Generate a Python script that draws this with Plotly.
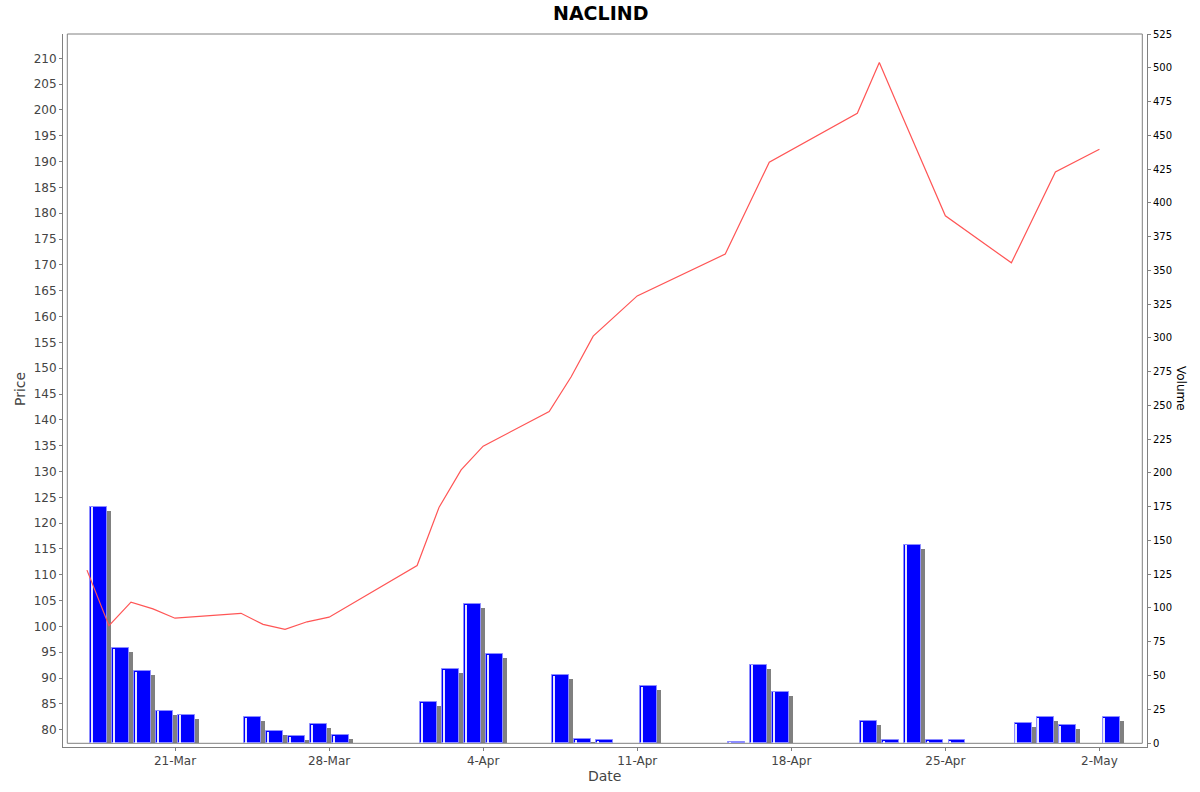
import pandas as pd
import plotly.graph_objects as go

# ---------------- data ----------------
dates = ["2025-03-17", "2025-03-18", "2025-03-19", "2025-03-20", "2025-03-21",
         "2025-03-24", "2025-03-25", "2025-03-26", "2025-03-27", "2025-03-28",
         "2025-04-01", "2025-04-02", "2025-04-03", "2025-04-04",
         "2025-04-07", "2025-04-08", "2025-04-09", "2025-04-11",
         "2025-04-15", "2025-04-16", "2025-04-17",
         "2025-04-21", "2025-04-22", "2025-04-23", "2025-04-24", "2025-04-25",
         "2025-04-28", "2025-04-29", "2025-04-30", "2025-05-02"]
price = [110.9, 100.15, 104.7, 103.4, 101.6,
         102.55, 100.4, 99.45, 100.9, 101.8,
         111.8, 123.1, 130.3, 134.9,
         141.6, 148.35, 156.2, 164.0,
         172.1, 181.0, 189.9,
         199.35, 209.2, 199.2, 189.25, 179.5,
         170.4, 179.2, 188.0, 192.4]
volume = [175, 70, 53, 24, 21,
          19, 9, 5, 14, 6,
          30, 55, 103, 66,
          50, 3, 2, 42,
          1, 58, 38,
          16, 2, 147, 2, 2,
          15, 19, 13,
          19]
title = "NACLIND"
x_title = "Date"
price_title = "Price"
vol_title = "Volume"

# ---------------- geometry / style ----------------
W, H = 1200, 792
# axis-line box in screen pixels
PL, PR, PT, PB = 63, 1147, 34, 747
DAY_PX = 22.01
DAY_MS = 86400000
fam = "DejaVu Sans"

d = pd.to_datetime(dates)
day = pd.Timedelta(days=1)
bar_x = d + day * 0.529
shadow_x = d + day * (0.529 + 4 / DAY_PX)
stripe_x = d + day * (4.7 / DAY_PX)
bar_w = 0.772 * DAY_MS
stripe_w = (1.0 / DAY_PX) * DAY_MS

VOL_TOP = 525.05
vol_per_px = VOL_TOP / (PB - 4 - PT)
shadow_v = [max(v - 4 * vol_per_px, 0) for v in volume]
stripe_v = [max(v - 0.8 * vol_per_px, 0) for v in volume]

base = pd.Timestamp("2025-03-21")          # screen x = 175 px
x_range = [base + day * ((PL - 175) / DAY_PX), base + day * ((PR - 175) / DAY_PX)]

fig = go.Figure()
fig.add_trace(go.Bar(x=shadow_x, y=shadow_v, width=bar_w, marker=dict(color="#808080", line=dict(width=0)),
                     yaxis="y", showlegend=False, hoverinfo="skip"))
fig.add_trace(go.Bar(x=bar_x, y=volume, width=bar_w,
                     marker=dict(color="#0000ff", line=dict(color="#8c8cff", width=1)),
                     yaxis="y", showlegend=False, name="Volume"))
fig.add_trace(go.Bar(x=stripe_x, y=stripe_v, width=stripe_w, marker=dict(color="#e6e6ff", line=dict(width=0)),
                     yaxis="y", showlegend=False, hoverinfo="skip"))
fig.add_trace(go.Scatter(x=d, y=price, mode="lines", line=dict(color="rgb(255,85,85)", width=1.2),
                         yaxis="y2", showlegend=False, name="Price"))

axis_line = "#808080"
fig.update_layout(
    width=W, height=H,
    margin=dict(l=PL, r=W - PR, t=PT, b=H - PB, pad=0, autoexpand=False),
    paper_bgcolor="white", plot_bgcolor="white",
    barmode="overlay", bargap=0,
    font=dict(family=fam, size=12, color="#444444"),
    xaxis=dict(type="date", range=x_range, tick0="2025-03-21", dtick=7 * DAY_MS,
               tickformat="%-d-%b", showgrid=False, zeroline=False, automargin=False,
               showline=True, linecolor=axis_line, linewidth=1,
               ticks="outside", ticklen=3, tickcolor=axis_line,
               tickfont=dict(family=fam, size=12, color="#444444")),
    yaxis=dict(side="right", range=[-4 * vol_per_px, VOL_TOP],
               tick0=0, dtick=25, showgrid=False, zeroline=False, automargin=False,
               showline=True, linecolor=axis_line, linewidth=1,
               ticks="outside", ticklen=3, tickcolor=axis_line,
               tickfont=dict(family=fam, size=10, color="#000000")),
    yaxis2=dict(side="left", overlaying="y",
                range=[210 - (PB - 58.3) / 5.165, 210 + (58.3 - PT) / 5.165],
                tick0=80, dtick=5, showgrid=False, zeroline=False, automargin=False,
                showline=True, linecolor=axis_line, linewidth=1,
                ticks="outside", ticklen=3, tickcolor=axis_line,
                tickfont=dict(family=fam, size=12, color="#444444")),
)

pw, ph = PR - PL, PB - PT
def px(x):   # screen px -> paper fraction
    return (x - PL) / pw
def py(y):
    return (PB - y) / ph

# inner plot border (offset from axes)
fig.add_shape(type="rect", xref="paper", yref="paper",
              x0=px(67.3), x1=px(1142.3), y0=py(743.3), y1=py(PT),
              line=dict(color=axis_line, width=1), fillcolor="rgba(0,0,0,0)", layer="below")

fig.add_annotation(text="<b>" + title + "</b>", xref="paper", yref="paper", x=px(600), y=py(0.5),
                   showarrow=False, font=dict(family=fam, size=19, color="#000000"),
                   xanchor="center", yanchor="top", borderpad=0)
fig.add_annotation(text=x_title, xref="paper", yref="paper", x=px(604), y=py(776),
                   showarrow=False, font=dict(family=fam, size=14, color="#444444"),
                   xanchor="center", yanchor="middle")
fig.add_annotation(text=price_title, xref="paper", yref="paper", x=px(20), y=py(389),
                   showarrow=False, textangle=-90, font=dict(family=fam, size=14, color="#444444"),
                   xanchor="center", yanchor="middle")
fig.add_annotation(text=vol_title, xref="paper", yref="paper", x=px(1181), y=py(388),
                   showarrow=False, textangle=90, font=dict(family=fam, size=12, color="#000000"),
                   xanchor="center", yanchor="middle")

fig.write_html("out.html", config={"displayModeBar": False},
               post_script="document.body.style.margin='0';document.body.style.overflow='hidden';")
